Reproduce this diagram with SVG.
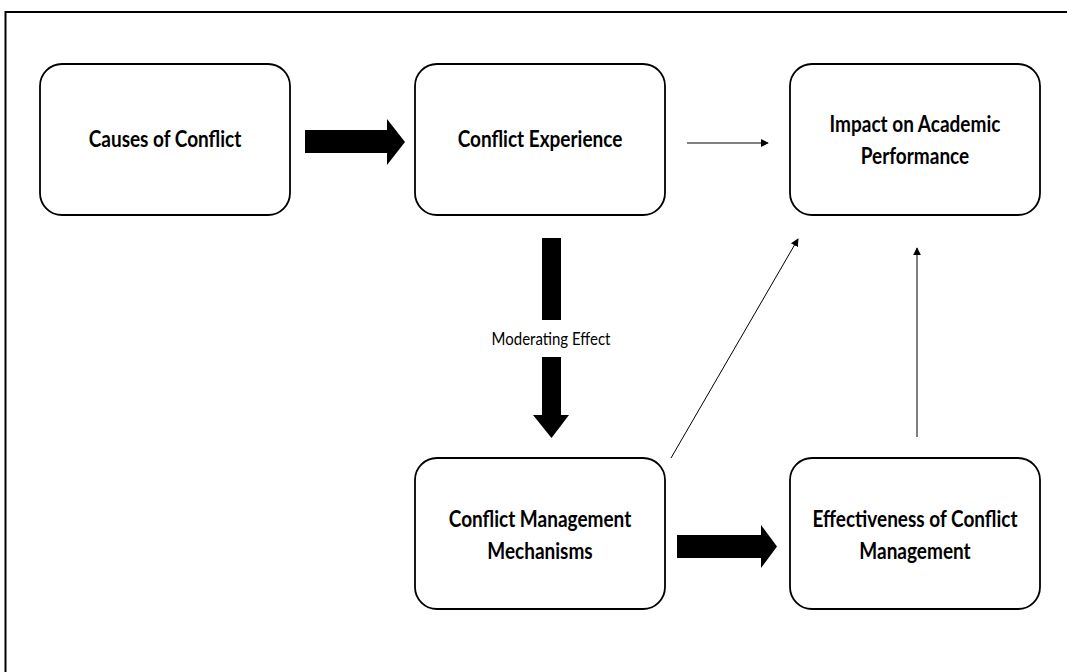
<svg xmlns="http://www.w3.org/2000/svg" width="1067" height="672" viewBox="0 0 1067 672">
<style>
.box{fill:#fff;stroke:#000;stroke-width:1.8}
.t{font-family:Lato,"Liberation Sans",sans-serif;font-weight:bold;font-size:19px;fill:#000;text-anchor:middle}
.lbl{font-family:Lato,"Liberation Sans",sans-serif;font-size:15px;fill:#000;text-anchor:middle}
.thin{stroke:#000;stroke-width:1;fill:none;marker-end:url(#ah)}
</style>
<defs>
<marker id="ah" viewBox="0 0 10 10" refX="9" refY="5" markerWidth="8" markerHeight="8" markerUnits="userSpaceOnUse" orient="auto">
<path d="M0,0 L10,5 L0,10 Z" fill="#000"/>
</marker>
</defs>
<rect width="1067" height="672" fill="#fff"/>
<path d="M5.5,672 V12 H1067" fill="none" stroke="#000" stroke-width="2"/>
<g id="connectors">
<path d="M305,130 H387 V119 L405,142 L387,165 V153 H305 Z" fill="#000"/>
<line class="thin" x1="687" y1="143" x2="768" y2="143"/>
<rect x="542" y="238" width="19" height="82" fill="#000"/>
<path d="M542,357 H561 V415 H569 L551.5,438 L533,415 H542 Z" fill="#000"/>
<text class="lbl" transform="translate(551,345) scale(1,1.2)">Moderating Effect</text>
<line class="thin" x1="671" y1="458" x2="798" y2="239"/>
<path d="M677,535 H761 V525 L777,546.5 L761,568 V558 H677 Z" fill="#000"/>
<line class="thin" x1="917" y1="437" x2="917" y2="248"/>
</g>
<g id="causes">
<rect class="box" x="40" y="64" width="250" height="151" rx="22"/>
<text class="t" transform="translate(165,147) scale(1,1.24)">Causes of Conflict</text>
</g>
<g id="experience">
<rect class="box" x="415" y="64" width="250" height="151" rx="22"/>
<text class="t" transform="translate(540,147) scale(1,1.24)">Conflict Experience</text>
</g>
<g id="impact">
<rect class="box" x="790" y="64" width="250" height="151" rx="22"/>
<text class="t" transform="translate(915,132) scale(1,1.24)">Impact on Academic</text>
<text class="t" transform="translate(915,164) scale(1,1.24)">Performance</text>
</g>
<g id="mechanisms">
<rect class="box" x="415" y="458" width="250" height="151" rx="22"/>
<text class="t" transform="translate(540,527) scale(1,1.24)">Conflict Management</text>
<text class="t" transform="translate(540,559) scale(1,1.24)">Mechanisms</text>
</g>
<g id="effectiveness">
<rect class="box" x="790" y="458" width="250" height="151" rx="22"/>
<text class="t" transform="translate(915,527) scale(1,1.24)">Effectiveness of Conflict</text>
<text class="t" transform="translate(915,559) scale(1,1.24)">Management</text>
</g>
</svg>
